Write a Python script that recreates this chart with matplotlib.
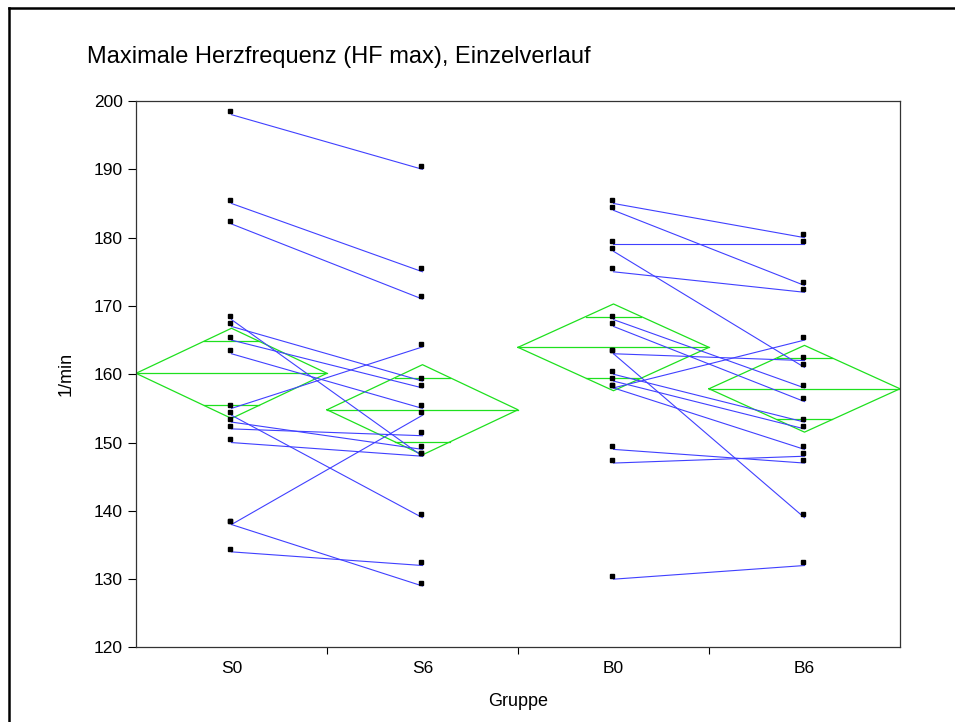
import matplotlib
matplotlib.use("Agg")
import matplotlib.pyplot as plt
import matplotlib.transforms as mtransforms
from matplotlib.lines import Line2D
import numpy as np

plt.rcParams['font.family'] = ['Liberation Sans', 'DejaVu Sans']

groups = ["S0", "S6", "B0", "B6"]

# paired values per subject (S: 15 subjects, B: 16 subjects)
s0 = [198, 185, 182, 168, 167, 165, 163, 155, 154, 153, 152, 150, 138, 138, 134]
s6 = [190, 175, 171, 148, 159, 158, 155, 164, 139, 149, 151, 148, 154, 129, 132]
b0 = [185, 184, 179, 178, 175, 168, 167, 163, 163, 158, 160, 159, 158, 149, 147, 130]
b6 = [180, 173, 179, 161, 172, 158, 156, 162, 139, 165, 153, 152, 149, 147, 148, 132]

# 95% CI half widths of the mean diamonds
ci_half = [6.6, 6.6, 6.35, 6.35]

blue = "#4040ff"
green = "#1ee01e"

fig = plt.figure(figsize=(9.55, 7.22), dpi=100)
ax = fig.add_axes([0.1424, 0.1032, 0.8, 0.7569])

series = [s0, s6, b0, b6]

# mean diamonds
for i, vals in enumerate(series):
    m = np.mean(vals)
    c = ci_half[i]
    ax.plot([i - 0.5, i, i + 0.5, i, i - 0.5], [m, m + c, m, m - c, m],
            color=green, lw=0.9, zorder=2)
    ax.plot([i - 0.5, i + 0.5], [m, m], color=green, lw=0.9, zorder=2)
    d = c / np.sqrt(2)
    w = 0.5 * (1 - d / c)
    for sgn in (1, -1):
        ax.plot([i - w, i + w], [m + sgn * d, m + sgn * d], color=green, lw=0.9, zorder=2)

# individual courses
for a, b, x0 in [(s0, s6, 0), (b0, b6, 2)]:
    for va, vb in zip(a, b):
        ax.plot([x0, x0 + 1], [va, vb], color=blue, lw=0.8, zorder=3)

# markers (drawn slightly up-left like the original)
off = mtransforms.ScaledTranslation(-1.3 / 100, 3.3 / 100, fig.dpi_scale_trans)
for i, vals in enumerate(series):
    ax.plot([i] * len(vals), vals, ls="none", marker="s", ms=2.9, color="black",
            transform=ax.transData + off, zorder=4, clip_on=False)

ax.set_xlim(-0.5, 3.5)
ax.set_ylim(120, 200)
ax.set_yticks(np.arange(120, 201, 10))
ax.set_xticks(range(4))
ax.set_xticklabels(groups)
ax.set_xticks([0.5, 1.5, 2.5], minor=True)
ax.tick_params(axis="x", which="major", length=0, pad=10, labelsize=12.5)
ax.tick_params(axis="x", which="minor", length=5, width=0.8, direction="out")
ax.tick_params(axis="y", length=5.5, width=0.8, pad=4, labelsize=12.5)
for sp in ax.spines.values():
    sp.set_linewidth(0.9)
    sp.set_color("#333333")

ax.set_xlabel("Gruppe", fontsize=13, labelpad=12)
ax.set_ylabel("1/min", fontsize=13, labelpad=14)
fig.text(87 / 955, 1 - 57 / 722, "Maximale Herzfrequenz (HF max), Einzelverlauf",
         fontsize=17, va="center", ha="left")

# outer frame
fig.add_artist(Line2D([9 / 955, 1.0], [1 - 7.5 / 722, 1 - 7.5 / 722],
                      transform=fig.transFigure, color="black", lw=1.8))
fig.add_artist(Line2D([9 / 955, 9 / 955], [1 - 7.5 / 722, 0.0],
                      transform=fig.transFigure, color="black", lw=1.8))

fig.savefig("out.png", dpi=100)
